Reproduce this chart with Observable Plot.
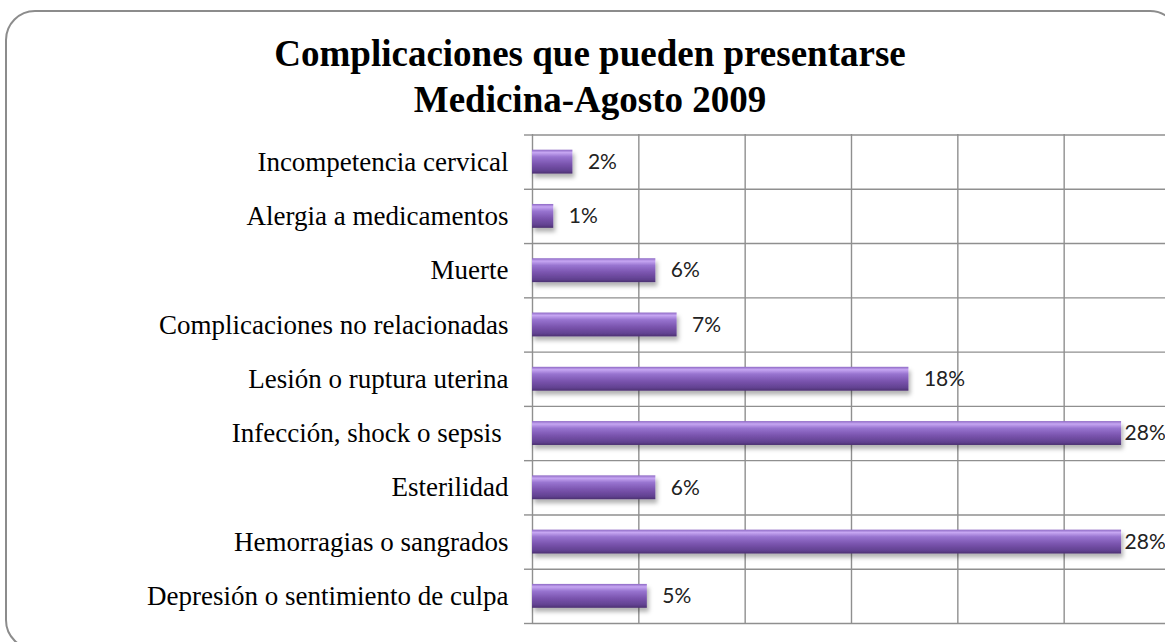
<!DOCTYPE html>
<html>
<head>
<meta charset="utf-8">
<script src="https://cdn.jsdelivr.net/npm/d3@7"></script>
<script src="https://cdn.jsdelivr.net/npm/@observablehq/plot@0.6"></script>
<style>
  html, body { margin: 0; padding: 0; background: #fff; }
  #wrap { position: relative; width: 1165px; height: 642px; overflow: hidden; background: #fff; }
  #frame { position: absolute; left: 5px; top: 10px; width: 1175px; height: 640px; border: 2px solid #8c8c8c; border-radius: 30px; box-sizing: border-box; }
  #title { position: absolute; top: 31px; left: 0; width: 1180px; text-align: center; font: bold 37px "Liberation Serif", "Times New Roman", serif; line-height: 46px; color: #000; }
  #chart { position: absolute; left: 0; top: 0; }
</style>
</head>
<body>
<div id="wrap">
  <div id="frame"></div>
  <div id="title">Complicaciones que pueden presentarse<br>Medicina-Agosto 2009</div>
  <div id="chart"></div>
</div>
<script>
const categories = [
  "Incompetencia cervical",
  "Alergia a medicamentos",
  "Muerte",
  "Complicaciones no relacionadas",
  "Lesión o ruptura uterina",
  "Infección, shock o sepsis\u00a0",
  "Esterilidad",
  "Hemorragias o sangrados",
  "Depresión o sentimiento de culpa"
];
const values = [1.9, 1.0, 5.8, 6.8, 17.7, 27.7, 5.8, 27.7, 5.4];
const valueLabels = ["2%", "1%", "6%", "7%", "18%", "28%", "6%", "28%", "5%"];
const xTicks = [0, 5, 10, 15, 20, 25, 30];

const data = categories.map((c, i) => ({ cat: c, i, v: values[i], label: valueLabels[i] }));
const boundaries = d3.range(categories.length + 1);
const centers = categories.map((c, i) => i + 0.5);
const BAR = "#7b56ad";

const chart = Plot.plot({
  width: 1165,
  height: 642,
  marginTop: 134,
  marginBottom: 19,
  marginLeft: 532,
  marginRight: 0,
  style: { background: "transparent", overflow: "visible" },
  x: { domain: [0, 30], range: [532, 1170], axis: null },
  y: { domain: [0, 9], range: [134.5, 623], axis: null },
  marks: [
    Plot.gridX(xTicks, { stroke: "#8f8f8f", strokeOpacity: 1, strokeWidth: 1.4 }),
    Plot.ruleY(boundaries, { x1: 0, x2: 30, stroke: "#8f8f8f", strokeWidth: 1.4 }),
    Plot.axisY(boundaries, { tickSize: 8, tickFormat: () => "", stroke: "#8f8f8f", strokeWidth: 1.4 }),
    Plot.axisY(centers, {
      tickSize: 0, tickPadding: 24,
      tickFormat: (d) => categories[Math.floor(d)],
      fontSize: 27, fontFamily: "Liberation Serif", fill: "#000"
    }),
    Plot.rectX(data, {
      x1: 0, x2: "v",
      y1: (d) => d.i + 0.28, y2: (d) => d.i + 0.72,
      fill: BAR
    }),
    Plot.text(data.filter(d => d.v < 25), {
      x: "v", y: (d) => d.i + 0.5, text: "label",
      dx: 15, textAnchor: "start", fontSize: 21, fontFamily: "Lato", fill: "#222"
    }),
    Plot.text(data.filter(d => d.v >= 25), {
      x: "v", y: (d) => d.i + 0.5, text: "label",
      dx: 3, textAnchor: "start", fontSize: 21, fontFamily: "Lato", fill: "#222"
    })
  ]
});

const ns = "http://www.w3.org/2000/svg";
const defs = document.createElementNS(ns, "defs");
defs.innerHTML = `
  <linearGradient id="barGrad" x1="0" y1="0" x2="0" y2="1">
    <stop offset="0%" stop-color="#8d68c4"/>
    <stop offset="12%" stop-color="#c6a6f2"/>
    <stop offset="30%" stop-color="#9874d0"/>
    <stop offset="60%" stop-color="#7a54ae"/>
    <stop offset="88%" stop-color="#614190"/>
    <stop offset="100%" stop-color="#4b3070"/>
  </linearGradient>
  <filter id="barShadow" x="-5%" y="-30%" width="115%" height="190%">
    <feDropShadow dx="2" dy="4" stdDeviation="2.2" flood-color="#000" flood-opacity="0.3"/>
  </filter>`;
chart.insertBefore(defs, chart.firstChild);
chart.querySelectorAll(`[fill="${BAR}"]`).forEach(el => {
  el.setAttribute("fill", "url(#barGrad)");
  el.setAttribute("filter", "url(#barShadow)");
});
document.getElementById("chart").appendChild(chart);
</script>
</body>
</html>
